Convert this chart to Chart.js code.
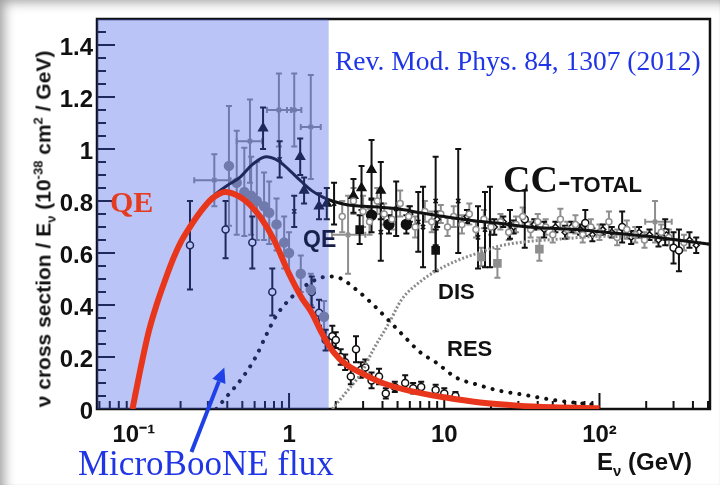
<!DOCTYPE html>
<html>
<head>
<meta charset="utf-8">
<script src="https://cdn.jsdelivr.net/npm/chart.js@4.4.1/dist/chart.umd.min.js"></script>
<style>
  body { margin: 0; background: #fff; }
  #wrap {
    position: relative; width: 720px; height: 485px; overflow: hidden; background: #fff;
    box-shadow: inset 12px 10px 12px -8px rgba(0,0,0,0.38), inset -2px -2px 3px -2px rgba(0,0,0,0.08);
  }
  canvas { position: absolute; left: 0; top: 0; }
  .lbl { position: absolute; white-space: nowrap; line-height: 1; }
  .serif { font-family: "Liberation Serif", "DejaVu Serif", serif; }
  .sans { font-family: "Liberation Sans", Arial, sans-serif; font-weight: bold; }
  sub, sup { font-size: 62%; line-height: 0; }
</style>
</head>
<body>
<div id="wrap">
  <canvas id="chart" width="720" height="485"></canvas>
  <div class="lbl serif" style="left:335px;top:47px;font-size:27.5px;color:#1f35e6;">Rev. Mod. Phys. 84, 1307 (2012)</div>
  <div class="lbl serif" style="left:78px;top:446px;font-size:35px;color:#1f35e6;">MicroBooNE flux</div>
  <div class="lbl serif" style="left:110px;top:187px;font-size:30px;font-weight:bold;color:#e53b1f;">QE</div>
  <div class="lbl" style="left:503px;top:160px;color:#111;"><span class="serif" style="font-size:38px;font-weight:bold;">CC-</span><span class="sans" style="font-size:22px;">TOTAL</span></div>
  <div class="lbl sans" style="left:303px;top:228px;font-size:23px;color:#16204a;">QE</div>
  <div class="lbl sans" style="left:438px;top:281px;font-size:22px;color:#111;">DIS</div>
  <div class="lbl sans" style="left:447px;top:338px;font-size:22px;color:#111;">RES</div>
  <div class="lbl sans" style="left:597px;top:450px;font-size:24px;color:#111;">E<sub>&nu;</sub> (GeV)</div>
  <div class="lbl sans" style="left:43px;top:229px;font-size:21px;color:#111;transform:translate(-50%,-50%) rotate(-90deg);">&nu; cross section / E<sub>&nu;</sub> (10<sup>-38</sup> cm<sup>2</sup> / GeV)</div>
</div>
<script>
// axis ranges and tick labels
const xMin = 0.0579, xMax = 515;
const yMin = 0, yMax = 1.5;
const xMajor = [0.1, 1, 10, 100];
const xMajorLabels = ['10\u207B\u00B9', '1', '10', '10\u00B2'];
const yMajor = [0, 0.2, 0.4, 0.6, 0.8, 1, 1.2, 1.4];
const yMajorLabels = ['0', '0.2', '0.4', '0.6', '0.8', '1', '1.2', '1.4'];
const shadeMax = 1.8;              // MicroBooNE flux band, GeV
const arrowFrom = [0.235, -0.165];  // [E, sigma]
const arrowTo = [0.383, 0.16];

// model curves
const totalE = [0.3, 0.35, 0.4, 0.48, 0.58, 0.71, 0.85, 1.0, 1.2, 1.4, 1.65, 1.9, 2.4, 3, 4, 5, 7, 10, 15, 22, 35, 50, 72, 100, 150, 200, 300, 400, 515];
const totalV = [0.80, 0.835, 0.86, 0.89, 0.94, 0.97, 0.955, 0.92, 0.875, 0.84, 0.815, 0.80, 0.785, 0.78, 0.775, 0.77, 0.755, 0.74, 0.725, 0.715, 0.70, 0.695, 0.69, 0.682, 0.672, 0.665, 0.652, 0.642, 0.634];
const qeE = [0.098, 0.11, 0.125, 0.14, 0.16, 0.18, 0.2, 0.23, 0.27, 0.32, 0.39, 0.47, 0.55, 0.65, 0.8, 1.0, 1.2, 1.4, 1.6, 1.8, 2.1, 2.5, 3.0, 4.0, 6.0, 10, 17, 30, 50, 100];
const qeV = [0, 0.15, 0.30, 0.40, 0.50, 0.58, 0.64, 0.70, 0.76, 0.81, 0.835, 0.82, 0.79, 0.74, 0.65, 0.52, 0.43, 0.37, 0.30, 0.245, 0.195, 0.16, 0.135, 0.10, 0.07, 0.045, 0.025, 0.013, 0.007, 0.003];
const resE = [0.34, 0.4, 0.5, 0.61, 0.72, 0.83, 1.0, 1.16, 1.4, 1.8, 2.1, 2.7, 3.5, 4.4, 5.5, 7.1, 8.8, 12, 16, 22, 33, 50, 70, 100];
const resV = [0, 0.05, 0.12, 0.2, 0.29, 0.36, 0.42, 0.455, 0.49, 0.51, 0.505, 0.46, 0.40, 0.34, 0.28, 0.215, 0.18, 0.12, 0.095, 0.072, 0.054, 0.035, 0.024, 0.015];
const disE = [1.9, 2.3, 2.93, 3.5, 4.4, 5.3, 7, 8.8, 12, 16.5, 22, 30, 60, 100, 200, 515];
const disV = [0, 0.06, 0.14, 0.23, 0.33, 0.42, 0.49, 0.53, 0.57, 0.60, 0.625, 0.64, 0.655, 0.664, 0.662, 0.634];

// measurements
const darkOpenE = [0.23, 0.39, 0.58, 0.78, 1.4, 1.56, 1.72, 1.9, 2.0, 2.15, 2.3, 2.5, 2.7, 2.9, 3.1, 3.4, 3.8, 4.2, 4.8, 5.6, 6.3, 7.1, 8.8, 10, 11.8, 33, 81, 140, 265, 300, 325];
const darkOpenV = [0.63, 0.69, 0.64, 0.45, 0.45, 0.37, 0.265, 0.28, 0.265, 0.2, 0.18, 0.125, 0.23, 0.15, 0.16, 0.11, 0.125, 0.06, 0.085, 0.10, 0.08, 0.085, 0.073, 0.06, 0.05, 0.73, 0.715, 0.70, 0.68, 0.62, 0.61];
const darkOpenErr = [0.17, 0.11, 0.10, 0.09, 0.06, 0.05, 0.04, 0.04, 0.03, 0.03, 0.03, 0.03, 0.05, 0.03, 0.03, 0.03, 0.03, 0.02, 0.02, 0.03, 0.02, 0.02, 0.02, 0.02, 0.015, 0.11, 0.05, 0.06, 0.05, 0.06, 0.08];
const darkTriE = [0.68, 1.18, 1.25, 1.56, 1.75, 2.6, 2.93, 3.4, 3.9];
const darkTriV = [1.08, 0.97, 0.84, 0.78, 0.79, 0.82, 0.85, 0.92, 0.84];
const darkTriErr = [0.08, 0.07, 0.05, 0.05, 0.06, 0.065, 0.085, 0.115, 0.11];
const darkDotE = [3.4, 4.4, 5.7];
const darkDotV = [0.745, 0.71, 0.71];
const darkDotErr = [0.065, 0.035, 0.035];
const darkSqE = [2.85, 8.8];
const darkSqV = [0.69, 0.61];
const darkSqErr = [0.055, 0.08];
const darkBarE = [0.87, 1.08, 1.95, 3.9, 4.9, 6.8, 7.3, 8.8, 12.3, 16.5, 18.3, 19.7, 26.5];
const darkBarV = [0.96, 0.76, 0.79, 0.68, 0.77, 0.72, 0.70, 0.80, 0.80, 0.66, 0.69, 0.70, 0.71];
const darkBarErr = [0.07, 0.06, 0.08, 0.11, 0.105, 0.115, 0.155, 0.17, 0.2, 0.12, 0.145, 0.155, 0.055];
const darkBandE = [6, 9, 14, 21, 24, 28, 38, 44, 52, 60, 66, 75, 90, 105, 120, 160, 180, 210, 240, 270, 380, 420];
const darkBandV = [0.75, 0.73, 0.74, 0.70, 0.72, 0.70, 0.71, 0.69, 0.70, 0.68, 0.70, 0.69, 0.67, 0.69, 0.68, 0.66, 0.68, 0.67, 0.65, 0.67, 0.65, 0.63];
const darkBandErr = [0.03, 0.03, 0.025, 0.03, 0.02, 0.025, 0.02, 0.03, 0.02, 0.025, 0.02, 0.02, 0.025, 0.02, 0.02, 0.025, 0.02, 0.02, 0.025, 0.02, 0.03, 0.03];
const greyDotE = [0.41, 0.46, 0.515, 0.57, 0.62, 0.69, 0.745, 0.83, 0.93, 1.0, 1.19, 1.38, 1.68];
const greyDotV = [0.935, 0.87, 0.835, 0.82, 0.80, 0.78, 0.755, 0.71, 0.64, 0.60, 0.52, 0.46, 0.355];
const greyDotErr = [0.23, 0.2, 0.17, 0.15, 0.15, 0.13, 0.12, 0.1, 0.1, 0.08, 0.07, 0.06, 0.06];
const greyCrossE = [0.33, 0.56, 0.86, 1.08, 1.38, 2.4, 228];
const greyCrossV = [0.88, 1.03, 1.15, 1.15, 1.085, 0.67, 0.72];
const greyCrossErr = [0.1, 0.16, 0.14, 0.14, 0.2, 0.15, 0.08];
const greyCrossLo = [0.245, 0.46, 0.72, 0.97, 1.19, 1.89, 197];
const greyCrossHi = [0.42, 0.67, 1.03, 1.2, 1.6, 3.1, 292];
const greySqE = [17.3, 22, 41];
const greySqV = [0.585, 0.56, 0.615];
const greySqErr = [0.035, 0.055, 0.045];
const greyBandE = [2.2, 2.6, 3.0, 3.3, 3.7, 4.1, 4.6, 5.2, 5.9, 6.5, 7.5, 8.3, 9.5, 10.5, 11.5, 13, 14.5, 16, 18, 20, 23, 26, 29, 32, 36, 40, 45, 50, 56, 62, 70, 78, 88, 100, 115, 130, 150, 170, 195, 250, 280, 350];
const greyBandV = [0.74, 0.80, 0.76, 0.72, 0.80, 0.75, 0.73, 0.79, 0.74, 0.70, 0.76, 0.72, 0.75, 0.70, 0.74, 0.71, 0.75, 0.69, 0.73, 0.70, 0.72, 0.68, 0.71, 0.74, 0.69, 0.72, 0.70, 0.67, 0.73, 0.69, 0.71, 0.67, 0.70, 0.68, 0.72, 0.66, 0.69, 0.67, 0.65, 0.68, 0.66, 0.64];
const greyBandErr = [0.06, 0.05, 0.06, 0.05, 0.05, 0.04, 0.04, 0.05, 0.04, 0.04, 0.04, 0.04, 0.035, 0.035, 0.04, 0.035, 0.04, 0.03, 0.035, 0.03, 0.03, 0.03, 0.03, 0.035, 0.03, 0.03, 0.03, 0.03, 0.04, 0.03, 0.035, 0.03, 0.03, 0.03, 0.04, 0.03, 0.035, 0.03, 0.03, 0.03, 0.03, 0.03];

const DARK = '#111111', GREY = '#8e8e8e';

function pts(xs, ys) { return xs.map((e, i) => ({x: e, y: ys[i]})); }

function curve(id, xs, ys, color, width, dash, cap, order) {
  return { id: id, data: pts(xs, ys), showLine: true, pointRadius: 0, borderColor: color, borderWidth: width,
    borderDash: dash, borderCapStyle: cap, cubicInterpolationMode: 'monotone', order: order };
}

function marks(xs, ys, errs, style, color, fill, r, extra) {
  return Object.assign({ data: pts(xs, ys), errY: errs, errColor: color, pointStyle: style, pointRadius: r,
    borderColor: color, backgroundColor: fill, pointBorderWidth: 1.5, showLine: false, order: 10 }, extra || {});
}

const datasets = [
  curve('qe', qeE, qeV, '#e8361c', 6, [], 'butt', 0),
  curve('total', totalE, totalV, DARK, 3, [], 'butt', 1),
  curve('res', resE, resV, DARK, 4, [0.1, 9], 'round', 2),
  curve('dis', disE, disV, '#8a8a8a', 3, [2, 2], 'butt', 3),
  marks(greyBandE, greyBandV, greyBandErr, 'circle', GREY, '#ffffff', 3),
  marks(greySqE, greySqV, greySqErr, 'rect', GREY, GREY, 5),
  marks(greyCrossE, greyCrossV, greyCrossErr, 'crossRot', GREY, GREY, 3, {errXLo: greyCrossLo, errXHi: greyCrossHi}),
  marks(greyDotE, greyDotV, greyDotErr, 'circle', GREY, GREY, 4.5),
  marks(darkBandE, darkBandV, darkBandErr, 'rectRot', DARK, '#ffffff', 3),
  marks(darkBarE, darkBarV, darkBarErr, 'crossRot', DARK, DARK, 3),
  marks(darkSqE, darkSqV, darkSqErr, 'rect', DARK, DARK, 5),
  marks(darkDotE, darkDotV, darkDotErr, 'circle', DARK, DARK, 5),
  marks(darkTriE, darkTriV, darkTriErr, 'triangle', DARK, DARK, 5),
  marks(darkOpenE, darkOpenV, darkOpenErr, 'circle', DARK, '#ffffff', 3.5)
];

function near(a, b) { return Math.abs(a - b) < 1e-6 * Math.max(1, Math.abs(b)); }
function xLabel(v) { const i = xMajor.findIndex(m => near(v, m)); return i < 0 ? '' : xMajorLabels[i]; }
function yLabel(v) { const i = yMajor.findIndex(m => Math.abs(v - m) < 1e-6); return i < 0 ? '' : yMajorLabels[i]; }

// inward ticks + frame, drawn first so the flux band tints them
const frameTicks = {
  id: 'frameTicks',
  beforeDatasetsDraw(chart) {
    const {ctx, chartArea: a, scales: {x, y}} = chart;
    ctx.save();
    ctx.strokeStyle = DARK; ctx.lineWidth = 2;
    x.ticks.forEach(t => {
      const px = x.getPixelForValue(t.value);
      const len = xLabel(t.value) ? 16 : 8;
      ctx.beginPath(); ctx.moveTo(px, a.bottom); ctx.lineTo(px, a.bottom - len); ctx.stroke();
    });
    y.ticks.forEach(t => {
      const py = y.getPixelForValue(t.value);
      const len = yLabel(t.value) ? 18 : 9;
      ctx.beginPath(); ctx.moveTo(a.left, py); ctx.lineTo(a.left + len, py); ctx.stroke();
    });
    ctx.lineWidth = 2.5;
    ctx.strokeRect(a.left, a.top, a.right - a.left, a.bottom - a.top);
    ctx.restore();
  }
};

// error bars for every marker dataset
const errorBars = {
  id: 'errorBars',
  beforeDatasetsDraw(chart) {
    const {ctx, scales: {x, y}} = chart;
    ctx.save();
    chart.data.datasets.forEach(ds => {
      if (!ds.errY) return;
      ctx.strokeStyle = ds.errColor; ctx.lineWidth = 2;
      ds.data.forEach((p, i) => {
        const px = x.getPixelForValue(p.x);
        const y1 = y.getPixelForValue(p.y - ds.errY[i]);
        const y2 = y.getPixelForValue(p.y + ds.errY[i]);
        ctx.beginPath();
        ctx.moveTo(px, y1); ctx.lineTo(px, y2);
        ctx.moveTo(px - 3, y1); ctx.lineTo(px + 3, y1);
        ctx.moveTo(px - 3, y2); ctx.lineTo(px + 3, y2);
        if (ds.errXLo) {
          const py = y.getPixelForValue(p.y);
          const x1 = x.getPixelForValue(ds.errXLo[i]), x2 = x.getPixelForValue(ds.errXHi[i]);
          ctx.moveTo(x1, py); ctx.lineTo(x2, py);
          ctx.moveTo(x1, py - 3); ctx.lineTo(x1, py + 3);
          ctx.moveTo(x2, py - 3); ctx.lineTo(x2, py + 3);
        }
        ctx.stroke();
      });
    });
    ctx.restore();
  }
};

// translucent blue band, laid down just before the red QE curve
const fluxBand = {
  id: 'fluxBand',
  beforeDatasetDraw(chart, args) {
    if (chart.data.datasets[args.index].id !== 'qe') return;
    const {ctx, chartArea: a, scales: {x}} = chart;
    ctx.save();
    ctx.fillStyle = 'rgba(58,86,229,0.35)';
    ctx.fillRect(a.left, a.top, x.getPixelForValue(shadeMax) - a.left, a.bottom - a.top);
    ctx.restore();
  }
};

const fluxArrow = {
  id: 'fluxArrow',
  afterDraw(chart) {
    const {ctx, scales: {x, y}} = chart;
    const x0 = x.getPixelForValue(arrowFrom[0]), y0 = y.getPixelForValue(arrowFrom[1]);
    const x1 = x.getPixelForValue(arrowTo[0]), y1 = y.getPixelForValue(arrowTo[1]);
    const ang = Math.atan2(y1 - y0, x1 - x0), hl = 15, hw = 7;
    const bx = x1 - hl * Math.cos(ang), by = y1 - hl * Math.sin(ang);
    ctx.save();
    ctx.strokeStyle = '#1f40e6'; ctx.fillStyle = '#1f40e6'; ctx.lineWidth = 4;
    ctx.beginPath(); ctx.moveTo(x0, y0); ctx.lineTo(bx, by); ctx.stroke();
    ctx.beginPath();
    ctx.moveTo(x1, y1);
    ctx.lineTo(bx + hw * Math.sin(ang), by - hw * Math.cos(ang));
    ctx.lineTo(bx - hw * Math.sin(ang), by + hw * Math.cos(ang));
    ctx.closePath(); ctx.fill();
    ctx.restore();
  }
};

const tickFont = {family: 'Liberation Sans', weight: 'bold', size: 24};

new Chart(document.getElementById('chart'), {
  type: 'scatter',
  data: {datasets: datasets},
  options: {
    responsive: false, animation: false, events: [],
    layout: {padding: {top: 19, right: 7, left: 0, bottom: 0}},
    plugins: {legend: {display: false}, tooltip: {enabled: false}},
    scales: {
      x: {
        type: 'logarithmic', min: xMin, max: xMax,
        grid: {display: false, drawTicks: false}, border: {display: false},
        afterBuildTicks: s => {
          const t = [];
          for (let p = -2; p <= 2; p++) {
            for (let m = 1; m <= 9; m++) {
              const v = m * Math.pow(10, p);
              if (v >= s.min && v <= s.max) t.push({value: v});
            }
          }
          s.ticks = t;
        },
        ticks: {callback: v => xLabel(v), font: tickFont, color: DARK, padding: 12, maxRotation: 0, autoSkip: false},
        afterFit: s => { s.height = 76; }
      },
      y: {
        min: yMin, max: yMax,
        grid: {display: false, drawTicks: false}, border: {display: false},
        ticks: {stepSize: 0.05, callback: v => yLabel(v), font: tickFont, color: DARK, padding: 4, labelOffset: 3, autoSkip: false},
        afterFit: s => { s.width = 97; }
      }
    }
  },
  plugins: [frameTicks, errorBars, fluxBand, fluxArrow]
});
</script>
</body>
</html>
